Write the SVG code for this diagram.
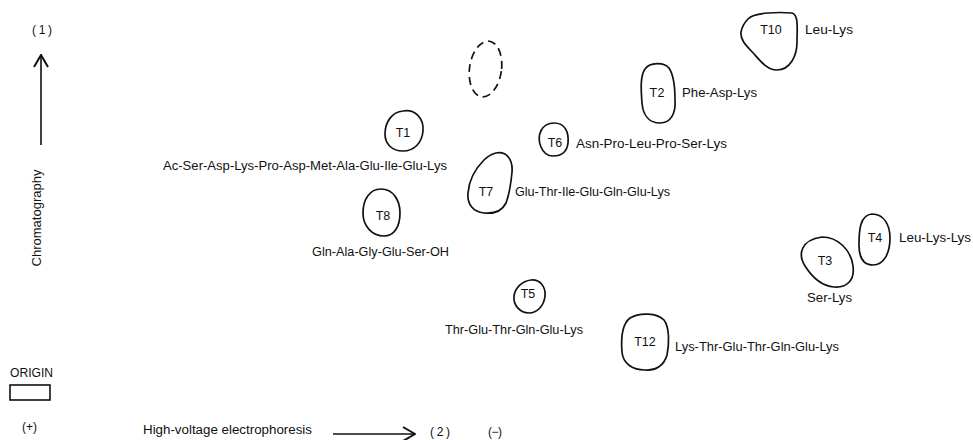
<svg xmlns="http://www.w3.org/2000/svg" width="973" height="440" viewBox="0 0 973 440">
<defs>
<style>
text{font-family:"Liberation Sans",Arial,sans-serif;fill:#111;font-size:12px}
.t{font-size:12.5px;text-anchor:middle}
.spot{fill:none;stroke:#111;stroke-width:1.7;stroke-linejoin:round}
.dash{fill:none;stroke:#111;stroke-width:1.7;stroke-dasharray:8 5}
.ax{fill:none;stroke:#111;stroke-width:1.6}
</style>
<marker id="open" viewBox="0 0 14 16" refX="13" refY="8" markerWidth="14" markerHeight="16" markerUnits="userSpaceOnUse" orient="auto">
<polyline points="1,1 13,8 1,15" fill="none" stroke="#111" stroke-width="2"/>
</marker>
</defs>
<rect width="973" height="440" fill="#fff"/>

<g id="connectors">
<line class="ax" x1="41" y1="145" x2="41" y2="55" marker-end="url(#open)"/>
<line class="ax" x1="333" y1="434" x2="415" y2="434" marker-end="url(#open)"/>
</g>

<g id="axes-labels">
<text x="32" y="34" textLength="20" lengthAdjust="spacing">(1)</text>
<text transform="translate(40.5,218) rotate(-90)" text-anchor="middle" font-size="12.5" textLength="97" lengthAdjust="spacingAndGlyphs">Chromatography</text>
<text x="10" y="377" font-size="11" textLength="43" lengthAdjust="spacingAndGlyphs">ORIGIN</text>
<rect x="10" y="385" width="40" height="15" fill="none" stroke="#111" stroke-width="1.6"/>
<text x="22" y="431" textLength="15" lengthAdjust="spacing">(+)</text>
<text x="143" y="434" textLength="169" lengthAdjust="spacingAndGlyphs">High-voltage electrophoresis</text>
<text x="430" y="436" textLength="20" lengthAdjust="spacing">(2)</text>
<text x="488" y="436" textLength="14" lengthAdjust="spacing">(−)</text>
</g>

<g id="unknown">
<ellipse class="dash" cx="485.5" cy="69" rx="16" ry="28" transform="rotate(8 485.5 69)"/>
</g>

<g id="T10">
<path class="spot" d="M748,19 C755,12 780,12 792,13 C799,15 797,30 797,42 C797,56 790,70 777,70 C768,70 762,63 755,55 C748,47 740,41 741,32 C742,27 745,22 748,19 Z"/>
<text class="t" x="771" y="34">T10</text>
<text x="805" y="34" textLength="48" lengthAdjust="spacingAndGlyphs">Leu-Lys</text>
</g>

<g id="T2">
<path class="spot" d="M645,69 C650,62 664,62 669,68 C673,74 675,88 675,100 C676,113 671,123 660,123 C649,123 643,115 642,103 C641,90 640,76 645,69 Z"/>
<text class="t" x="657" y="97" textLength="15" lengthAdjust="spacing">T 2</text>
<text x="682" y="97" textLength="75" lengthAdjust="spacingAndGlyphs">Phe-Asp-Lys</text>
</g>

<g id="T1">
<path class="spot" d="M403,111 C415,109 424,118 423,131 C422,143 414,151 403,151 C392,151 385,144 385,134 C385,122 392,112 403,111 Z"/>
<text class="t" x="403" y="137">T1</text>
<text x="163" y="170" textLength="284" lengthAdjust="spacingAndGlyphs">Ac-Ser-Asp-Lys-Pro-Asp-Met-Ala-Glu-Ile-Glu-Lys</text>
</g>

<g id="T6">
<path class="spot" d="M541,147 C536,135 542,123 554,123 C565,123 569,132 568,143 C567,152 561,156 553,156 C547,156 543,152 541,147 Z"/>
<text class="t" x="555" y="147">T6</text>
<text x="576" y="148" textLength="151" lengthAdjust="spacingAndGlyphs">Asn-Pro-Leu-Pro-Ser-Lys</text>
</g>

<g id="T7">
<path class="spot" d="M496,153 C507,151 513,160 512,172 C511,183 509,195 506,203 C502,211 494,214 484,213 C473,212 467,204 468,193 C469,180 476,168 484,160 C488,156 492,154 496,153 Z"/>
<text class="t" x="486" y="196">T7</text>
<text x="515" y="196" textLength="155" lengthAdjust="spacingAndGlyphs">Glu-Thr-Ile-Glu-Gln-Glu-Lys</text>
</g>

<g id="T8">
<path class="spot" d="M381,189 C393,189 400,200 400,213 C400,227 394,236 384,236 C372,236 363,226 363,213 C363,199 370,189 381,189 Z"/>
<text class="t" x="383" y="220">T8</text>
<text x="312" y="256" textLength="137" lengthAdjust="spacingAndGlyphs">Gln-Ala-Gly-Glu-Ser-OH</text>
</g>

<g id="T5">
<path class="spot" d="M531,280 C540,279 546,287 545,296 C544,306 537,313 529,313 C520,313 513,305 514,296 C515,288 522,281 531,280 Z"/>
<text class="t" x="528" y="298">T5</text>
<text x="445" y="334" textLength="138" lengthAdjust="spacingAndGlyphs">Thr-Glu-Thr-Gln-Glu-Lys</text>
</g>

<g id="T12">
<path class="spot" d="M630,318 C640,312 657,313 664,320 C670,328 669,345 667,355 C664,366 655,371 645,370 C633,370 623,364 622,352 C621,340 621,325 630,318 Z"/>
<text class="t" x="645" y="346">T12</text>
<text x="675" y="351" textLength="164" lengthAdjust="spacingAndGlyphs">Lys-Thr-Glu-Thr-Gln-Glu-Lys</text>
</g>

<g id="T3">
<path class="spot" d="M822,237 C838,237 851,250 853,266 C855,281 846,288 834,287 C822,286 812,277 805,266 C798,255 800,240 822,237 Z"/>
<text class="t" x="825" y="265">T3</text>
<text x="807" y="302" textLength="45" lengthAdjust="spacingAndGlyphs">Ser-Lys</text>
</g>

<g id="T4">
<path class="spot" d="M872,214 C884,214 890,225 890,238 C890,253 884,265 873,265 C863,265 859,257 859,245 C859,230 860,215 872,214 Z"/>
<text class="t" x="875" y="242">T4</text>
<text x="899" y="242" textLength="72" lengthAdjust="spacingAndGlyphs">Leu-Lys-Lys</text>
</g>
</svg>
